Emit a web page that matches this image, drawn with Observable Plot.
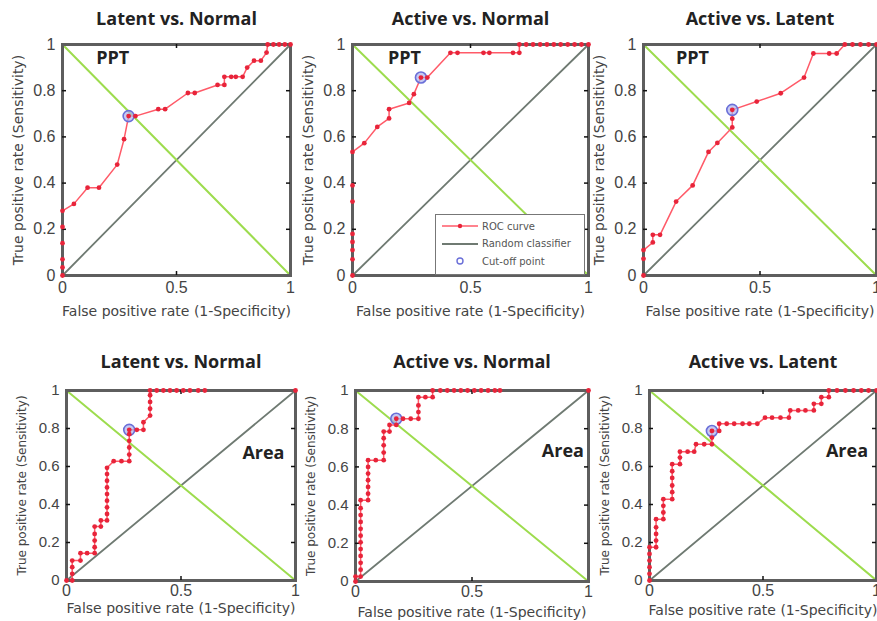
<!DOCTYPE html>
<html>
<head>
<meta charset="utf-8">
<script src="https://cdn.jsdelivr.net/npm/d3@7"></script>
<script src="https://cdn.jsdelivr.net/npm/@observablehq/plot@0.6"></script>
<style>
  body { margin: 0; background: #fff; }
  #wrap { position: relative; width: 877px; height: 621px; overflow: hidden; background: #fff;
          font-family: "Liberation Sans", Arial, sans-serif; }
  .panel { position: absolute; }
  .panel svg { overflow: visible; }
  .legend { position: absolute; background: #fff; border: 1px solid #777; box-sizing: border-box;
            font-family: "DejaVu Sans", sans-serif; font-size: 10px; color: #555; }
  .legend .row { position: absolute; left: 0; height: 14px; display: flex; align-items: center; }
  .legend svg { display: block; }
</style>
</head>
<body>
<div id="wrap"></div>
<script>
// ---------- data ----------
const titles = ["Latent vs. Normal", "Active vs. Normal", "Active vs. Latent",
                "Latent vs. Normal", "Active vs. Normal", "Active vs. Latent"];
const methods = ["PPT", "PPT", "PPT", "Area", "Area", "Area"];
const xLabel = "False positive rate (1-Specificity)";
const yLabel = "True positive rate (Sensitivity)";
const xTicks = [0, 0.5, 1];
const xTickLabels = ["0", "0.5", "1"];
const yTicks = [0, 0.2, 0.4, 0.6, 0.8, 1];
const yTickLabels = ["0", "0.2", "0.4", "0.6", "0.8", "1"];
const legendLabels = ["ROC curve", "Random classifier", "Cut-off point"];

const randomClassifier = [[0, 0], [1, 1]];
const oppositeDiagonal = [[0, 1], [1, 0]];

const rocLatentNormalPPT = [[0,0],[0,0.035],[0,0.07],[0,0.14],[0,0.21],[0,0.28],[0.05,0.31],[0.11,0.38],[0.16,0.38],
  [0.24,0.48],[0.27,0.59],[0.29,0.69],[0.32,0.69],[0.42,0.72],[0.45,0.72],[0.55,0.79],[0.58,0.79],[0.68,0.825],
  [0.71,0.825],[0.71,0.86],[0.74,0.86],[0.76,0.86],[0.79,0.86],[0.81,0.9],[0.84,0.93],[0.87,0.93],[0.895,0.965],
  [0.9,1],[0.925,1],[0.95,1],[0.975,1],[1,1]];
const cutLatentNormalPPT = [[0.29, 0.69]];

const rocActiveNormalPPT = [[0,0],[0,0.07],[0,0.11],[0,0.145],[0,0.18],[0,0.32],[0,0.39],[0,0.535],[0.05,0.573],
  [0.105,0.643],[0.155,0.68],[0.155,0.72],[0.24,0.747],[0.26,0.785],[0.29,0.857],[0.317,0.857],[0.415,0.964],
  [0.445,0.964],[0.555,0.964],[0.58,0.964],[0.68,0.964],[0.707,0.964],[0.707,1],[0.736,1],[0.765,1],[0.795,1],
  [0.824,1],[0.853,1],[0.882,1],[0.912,1],[0.941,1],[0.97,1],[1,1]];
const cutActiveNormalPPT = [[0.29, 0.857]];

const rocActiveLatentPPT = [[0,0],[0,0.072],[0,0.11],[0.04,0.143],[0.04,0.176],[0.071,0.176],[0.14,0.32],[0.211,0.39],
  [0.279,0.535],[0.317,0.574],[0.381,0.641],[0.381,0.679],[0.381,0.717],[0.486,0.753],[0.589,0.789],[0.689,0.857],
  [0.729,0.961],[0.797,0.961],[0.829,0.961],[0.864,1],[0.897,1],[0.931,1],[0.966,1],[1,1]];
const cutActiveLatentPPT = [[0.381, 0.717]];

const rocLatentNormalArea = [[0,0],[0.025,0],[0.025,0.035],[0.025,0.07],[0.025,0.105],[0.061,0.105],[0.061,0.144],
  [0.09,0.144],[0.123,0.144],[0.123,0.175],[0.123,0.21],[0.123,0.245],[0.123,0.284],[0.15,0.284],[0.15,0.316],
  [0.177,0.316],[0.177,0.35],[0.177,0.385],[0.177,0.42],[0.177,0.455],[0.177,0.49],[0.177,0.525],[0.177,0.56],
  [0.177,0.593],[0.206,0.628],[0.24,0.628],[0.274,0.628],[0.274,0.663],[0.274,0.7],[0.274,0.735],[0.274,0.77],
  [0.274,0.793],[0.307,0.793],[0.336,0.793],[0.336,0.833],[0.365,0.868],[0.365,0.904],[0.365,0.94],[0.365,0.975],
  [0.365,1],[0.394,1],[0.423,1],[0.452,1],[0.481,1],[0.51,1],[0.539,1],[0.575,1],[0.604,1],[1,1]];
const cutLatentNormalArea = [[0.274, 0.793]];

const rocActiveNormalArea = [[0,0],[0,0.026],[0.022,0.026],[0.022,0.062],[0.022,0.098],[0.022,0.134],[0.022,0.17],
  [0.022,0.205],[0.022,0.24],[0.022,0.276],[0.022,0.312],[0.022,0.348],[0.022,0.384],[0.022,0.426],[0.054,0.426],
  [0.054,0.46],[0.054,0.495],[0.054,0.53],[0.054,0.565],[0.054,0.6],[0.054,0.635],[0.087,0.635],[0.121,0.635],
  [0.121,0.675],[0.121,0.713],[0.121,0.75],[0.121,0.785],[0.146,0.785],[0.146,0.82],[0.175,0.82],[0.175,0.852],
  [0.204,0.852],[0.237,0.852],[0.27,0.852],[0.27,0.887],[0.27,0.922],[0.27,0.965],[0.3,0.965],[0.331,0.965],
  [0.331,1],[0.364,1],[0.394,1],[0.423,1],[0.452,1],[0.481,1],[0.51,1],[0.539,1],[0.569,1],[0.598,1],[0.62,1],[1,1]];
const cutActiveNormalArea = [[0.175, 0.852]];

const rocActiveLatentArea = [[0,0],[0,0.035],[0,0.07],[0,0.105],[0,0.14],[0,0.175],[0.029,0.175],[0.029,0.21],
  [0.029,0.245],[0.029,0.28],[0.029,0.323],[0.061,0.323],[0.061,0.358],[0.061,0.393],[0.061,0.428],[0.1,0.428],
  [0.1,0.465],[0.1,0.5],[0.1,0.54],[0.1,0.575],[0.1,0.612],[0.134,0.612],[0.134,0.647],[0.134,0.678],[0.168,0.678],
  [0.197,0.678],[0.205,0.717],[0.241,0.717],[0.275,0.717],[0.275,0.752],[0.275,0.787],[0.307,0.787],[0.307,0.825],
  [0.34,0.825],[0.373,0.825],[0.41,0.825],[0.44,0.825],[0.475,0.825],[0.509,0.857],[0.54,0.857],[0.577,0.857],
  [0.614,0.857],[0.62,0.895],[0.655,0.895],[0.687,0.895],[0.724,0.895],[0.724,0.93],[0.757,0.93],[0.757,0.965],
  [0.79,0.965],[0.79,1],[0.826,1],[0.863,1],[0.899,1],[0.933,1],[0.965,1],[1,1]];
const cutActiveLatentArea = [[0.275, 0.787]];

const rocSeries = [rocLatentNormalPPT, rocActiveNormalPPT, rocActiveLatentPPT,
                   rocLatentNormalArea, rocActiveNormalArea, rocActiveLatentArea];
const cutSeries = [cutLatentNormalPPT, cutActiveNormalPPT, cutActiveLatentPPT,
                   cutLatentNormalArea, cutActiveNormalArea, cutActiveLatentArea];

// ---------- layout ----------
const layout = [
  {left: 0,   top: 0,   width: 295, height: 330, ml: 62, mr: 5, mt: 44, mb: 55, titleDy: -25, tickPad: 6, xlDy: 36, ylSize: 14, tag: [0.22, 0.94]},
  {left: 295, top: 0,   width: 295, height: 330, ml: 57, mr: 2, mt: 44, mb: 55, titleDy: -25, tickPad: 6, xlDy: 36, ylSize: 14, tag: [0.22, 0.94]},
  {left: 590, top: 0,   width: 287, height: 330, ml: 53, mr: 1, mt: 44, mb: 55, titleDy: -25, tickPad: 6, xlDy: 36, ylSize: 14, tag: [0.21, 0.94]},
  {left: 0,   top: 330, width: 300, height: 291, ml: 66, mr: 5, mt: 60, mb: 41, titleDy: -28, tickPad: 4, xlDy: 28, ylSize: 12, tag: [0.86, 0.67]},
  {left: 300, top: 330, width: 292, height: 291, ml: 55, mr: 4, mt: 60, mb: 40, titleDy: -28, tickPad: 4, xlDy: 31, ylSize: 12, tag: [0.89, 0.68]},
  {left: 592, top: 330, width: 285, height: 291, ml: 57, mr: 1, mt: 60, mb: 41, titleDy: -28, tickPad: 4, xlDy: 30, ylSize: 12, tag: [0.87, 0.68]}
];

const fx = d => d[0], fy = d => d[1];
const wrap = document.getElementById("wrap");
const labelFont = '"DejaVu Sans", sans-serif';
const boldFont = '"Open Sans", "Liberation Sans", sans-serif';

layout.forEach((cfg, i) => {
  const fw = cfg.width - cfg.ml - cfg.mr;
  const fh = cfg.height - cfg.mt - cfg.mb;
  const tk = 4;
  const innerX = xTicks.filter(d => d > 0 && d < 1);
  const innerY = yTicks.filter(d => d > 0 && d < 1);
  const chart = Plot.plot({
    width: cfg.width, height: cfg.height,
    marginLeft: cfg.ml, marginRight: cfg.mr, marginTop: cfg.mt, marginBottom: cfg.mb,
    x: {domain: [0, 1]}, y: {domain: [0, 1]},
    style: {fontFamily: '"Liberation Sans", Arial, sans-serif', background: "transparent", overflow: "visible", color: "#444"},
    marks: [
      Plot.line(randomClassifier, {x: fx, y: fy, stroke: "#6f7a72", strokeWidth: 1.8}),
      Plot.line(oppositeDiagonal, {x: fx, y: fy, stroke: "#9ddc4e", strokeWidth: 2}),
      Plot.line(rocSeries[i], {x: fx, y: fy, stroke: "#ff5a68", strokeWidth: 1.5}),
      Plot.frame({stroke: "#5e5e5e", strokeWidth: 3}),
      Plot.ruleX(innerX, {x: d => d, insetTop: fh - tk, stroke: "#111", strokeWidth: 1.5}),
      Plot.ruleX(innerX, {x: d => d, insetBottom: fh - tk, stroke: "#111", strokeWidth: 1.5}),
      Plot.ruleY(innerY, {y: d => d, insetRight: fw - tk, stroke: "#111", strokeWidth: 1.5}),
      Plot.ruleY(innerY, {y: d => d, insetLeft: fw - tk, stroke: "#111", strokeWidth: 1.5}),
      Plot.axisX({ticks: xTicks, tickFormat: (d, j) => xTickLabels[j], tickSize: 0, tickPadding: cfg.tickPad, fontSize: 16, label: null}),
      Plot.axisY({ticks: yTicks, tickFormat: (d, j) => yTickLabels[j], tickSize: 0, tickPadding: 7, fontSize: i < 3 ? 16 : 15, label: null}),
      Plot.dot(cutSeries[i], {x: fx, y: fy, r: 5.5, stroke: "#6a6fd8", strokeWidth: 1.6, fill: "#aeb3ee", fillOpacity: 0.7}),
      Plot.dot(rocSeries[i], {x: fx, y: fy, r: 2.4, fill: "#e8243a"}),
      Plot.text([titles[i]], {frameAnchor: "top", lineAnchor: "middle", textAnchor: "middle", dy: cfg.titleDy,
        fontSize: 18, fontWeight: "bold", fontFamily: boldFont, fill: "#222"}),
      Plot.text([xLabel], {frameAnchor: "bottom", lineAnchor: "middle", textAnchor: "middle", dy: cfg.xlDy,
        fontSize: 14, fontFamily: labelFont, fill: "#444"}),
      Plot.text([yLabel], {frameAnchor: "left", lineAnchor: "middle", textAnchor: "middle", dx: -44, rotate: -90,
        fontSize: cfg.ylSize, fontFamily: labelFont, fill: "#444"}),
      Plot.text([methods[i]], {x: () => cfg.tag[0], y: () => cfg.tag[1], fontSize: 18, fontWeight: "bold",
        fontFamily: boldFont, fill: "#222"})
    ]
  });
  const div = document.createElement("div");
  div.className = "panel";
  div.style.left = cfg.left + "px";
  div.style.top = cfg.top + "px";
  div.appendChild(chart);
  wrap.appendChild(div);
});

// ---------- legend (panel 2) ----------
const leg = document.createElement("div");
leg.className = "legend";
leg.style.left = "435px"; leg.style.top = "214px"; leg.style.width = "150px"; leg.style.height = "61px";
const swatches = [
  '<svg width="40" height="10"><line x1="2" y1="5" x2="38" y2="5" stroke="#ff5a68" stroke-width="1.5"/><circle cx="20" cy="5" r="2.2" fill="#e8243a"/></svg>',
  '<svg width="40" height="10"><line x1="2" y1="5" x2="38" y2="5" stroke="#6f7a72" stroke-width="1.8"/></svg>',
  '<svg width="40" height="10"><circle cx="20" cy="5" r="3" fill="none" stroke="#6a6fd8" stroke-width="1.4"/></svg>'
];
legendLabels.forEach((lab, k) => {
  const row = document.createElement("div");
  row.className = "row";
  row.style.top = (4 + k * 17.5) + "px";
  row.style.left = "4px";
  row.innerHTML = swatches[k] + '<span style="margin-left:2px">' + lab + '</span>';
  leg.appendChild(row);
});
wrap.appendChild(leg);
</script>
</body>
</html>
